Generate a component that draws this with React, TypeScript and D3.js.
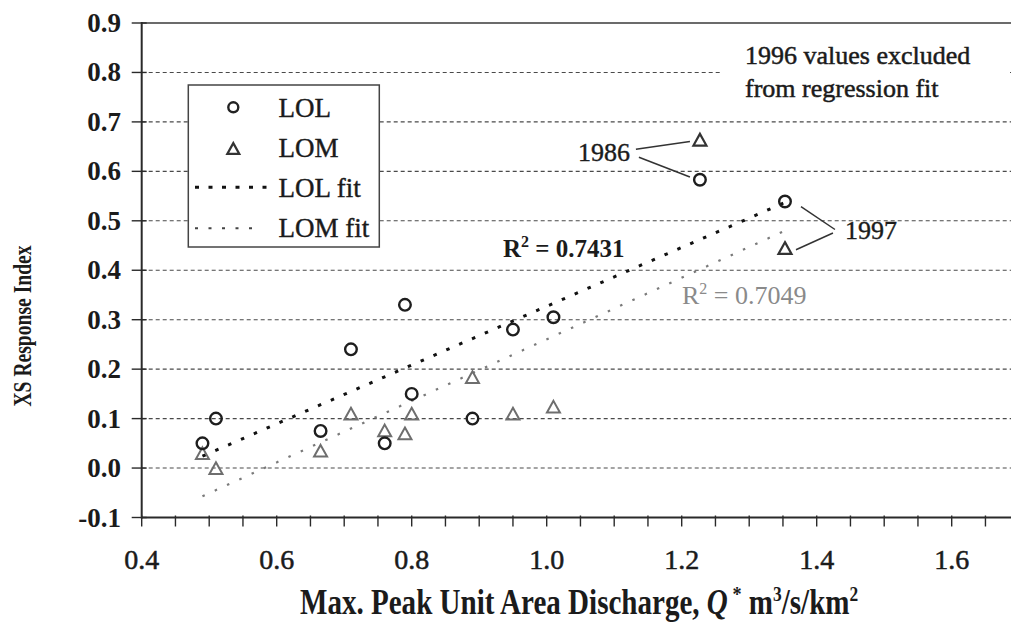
import React from "react";
import * as d3 from "d3";

// ---------- data ----------
const lolX = [0.49, 0.51, 0.665, 0.71, 0.76, 0.79, 0.8, 0.89, 0.95, 1.01];
const lolY = [0.05, 0.1, 0.075, 0.24, 0.05, 0.33, 0.15, 0.1, 0.28, 0.305];
const lomX = [0.49, 0.51, 0.665, 0.71, 0.76, 0.79, 0.8, 0.89, 0.95, 1.01];
const lomY = [0.03, 0.0, 0.035, 0.11, 0.076, 0.07, 0.11, 0.184, 0.11, 0.124];
// labelled years
const yearLabels = ["1986", "1997"];
const yearX = [1.227, 1.353];
const yearLolY = [0.583, 0.539];
const yearLomY = [0.664, 0.445];
// regression fit lines (endpoints)
const fitX = [0.49, 1.353];
const lolFitY = [0.024, 0.537];
const lomFitY = [-0.057, 0.48];
const lolR2 = "0.7431";
const lomR2 = "0.7049";
// axes
const xTicksMajor = [0.4, 0.6, 0.8, 1.0, 1.2, 1.4, 1.6];
const yTicks = [-0.1, 0.0, 0.1, 0.2, 0.3, 0.4, 0.5, 0.6, 0.7, 0.8, 0.9];
const gridValues = [0.0, 0.1, 0.2, 0.3, 0.4, 0.5, 0.6, 0.7, 0.8];
const legendItems = ["LOL", "LOM", "LOL fit", "LOM fit"];

const W = 1011;
const H = 624;
const FONT = "'Liberation Serif','Times New Roman',Times,serif";
const fmt = d3.formatLocale({ decimal: ".", thousands: ",", grouping: [3], currency: ["", ""], minus: "-" }).format(".1f");

const x = d3.scaleLinear().domain([0.4, 1.8]).range([141.7, 141.7 + 1.4 * 675]);
const y = d3.scaleLinear().domain([-0.1, 0.9]).range([517.5, 23]);

function T({ x: tx, y: ty, size, weight = "normal", anchor = "start", fill = "#1b1b1b", sx = 1, rot = 0, style = "normal", heavy = 0, children }: any) {
  return (
    <text
      transform={`translate(${tx},${ty}) rotate(${rot}) scale(${sx},1)`}
      fontFamily={FONT}
      fontSize={size}
      fontWeight={weight}
      fontStyle={style}
      textAnchor={anchor}
      fill={fill}
      stroke={heavy ? fill : "none"}
      strokeWidth={heavy}
    >
      {children}
    </text>
  );
}

const tri = (cx: number, cy: number, s: number) => {
  const h = s * 0.9;
  return `M${cx},${cy - h / 2}L${cx + s / 2},${cy + h / 2}L${cx - s / 2},${cy + h / 2}Z`;
};

export default function App() {
  const x0 = x(0.4);
  const xMinorTicks = d3.range(0.4, 1.8001, 0.05);
  const lineGen = d3.line<[number, number]>().x((d) => x(d[0])).y((d) => y(d[1]));
  const lolFit = lineGen(fitX.map((v, i) => [v, lolFitY[i]] as [number, number]));
  const lomFit = lineGen(fitX.map((v, i) => [v, lomFitY[i]] as [number, number]));

  const p86 = { x: x(yearX[0]), lom: y(yearLomY[0]), lol: y(yearLolY[0]) };
  const p97 = { x: x(yearX[1]), lom: y(yearLomY[1]), lol: y(yearLolY[1]) };

  const lgX = 188.3, lgY = 85, lgW = 191, lgH = 162;

  return (
    <svg width={W} height={H} style={{ position: "absolute", left: 0, top: 0, background: "#fff" }}>
      <rect x={0} y={0} width={W} height={H} fill="#fff" />
      {gridValues.map((v) => (
        <line key={v} x1={x0} x2={W} y1={y(v)} y2={y(v)} stroke="#4a4a4a" strokeWidth={1.1} strokeDasharray="4,3" />
      ))}
      <line x1={x0} x2={W} y1={y(0.9)} y2={y(0.9)} stroke="#3a3a3a" strokeWidth={1.6} />
      <line x1={x0} x2={x0} y1={y(0.9) - 1} y2={y(-0.1) + 1} stroke="#2a2a2a" strokeWidth={2} />
      <line x1={x0} x2={W} y1={y(-0.1)} y2={y(-0.1)} stroke="#2a2a2a" strokeWidth={2} />
      {yTicks.map((v) => (
        <g key={v}>
          <line x1={x0 - 10} x2={x0 + 5} y1={y(v)} y2={y(v)} stroke="#2a2a2a" strokeWidth={1.4} />
          <T x={121} y={y(v) + 9} size={27} weight="bold" anchor="end">{fmt(v)}</T>
        </g>
      ))}
      {xMinorTicks.map((v, i) => (
        <line key={i} x1={x(v)} x2={x(v)} y1={y(-0.1) - 2} y2={y(-0.1) + 9} stroke="#2a2a2a" strokeWidth={1.4} />
      ))}
      {xTicksMajor.map((v) => (
        <T key={v} x={x(v)} y={569} size={28} anchor="middle" heavy={0.5}>{fmt(v)}</T>
      ))}

      <T x={30.5} y={326} size={24.5} weight="bold" anchor="middle" rot={-90} sx={0.8}>XS Response Index</T>
      <T x={300} y={613.5} size={35} weight="bold" sx={0.83}>
        Max. Peak Unit Area Discharge,{" "}
        <tspan fontStyle="italic">Q</tspan>
        <tspan dy={-13} fontSize={22}> *</tspan>
        <tspan dy={13}>{"  "}m</tspan>
        <tspan dy={-13} fontSize={21}>3</tspan>
        <tspan dy={13}>/s/km</tspan>
        <tspan dy={-13} fontSize={21}>2</tspan>
      </T>

      <path d={lomFit || ""} fill="none" stroke="#7a7a7a" strokeWidth={2.2} strokeDasharray="2.5,11" />
      <path d={lolFit || ""} fill="none" stroke="#111" strokeWidth={3} strokeDasharray="3.5,10.5" />

      {lomX.map((v, i) => (
        <path key={i} d={tri(x(v), y(lomY[i]), 13)} fill="none" stroke="#6e6e6e" strokeWidth={2} />
      ))}
      {lolX.map((v, i) => (
        <circle key={i} cx={x(v)} cy={y(lolY[i])} r={5.8} fill="none" stroke="#1e1e1e" strokeWidth={2.4} />
      ))}
      {yearX.map((v, i) => (
        <g key={i}>
          <path d={tri(x(v), y(yearLomY[i]), 13)} fill="none" stroke="#333" strokeWidth={2.2} />
          <circle cx={x(v)} cy={y(yearLolY[i])} r={5.8} fill="none" stroke="#1e1e1e" strokeWidth={2.4} />
        </g>
      ))}

      <T x={p86.x - 122} y={161} size={26} heavy={0.4}>{yearLabels[0]}</T>
      <line x1={p86.x - 64} y1={149.3} x2={p86.x - 10} y2={p86.lom + 1.7} stroke="#333" strokeWidth={1.5} />
      <line x1={p86.x - 61} y1={157.3} x2={p86.x - 10} y2={p86.lol - 2.7} stroke="#333" strokeWidth={1.5} />
      <T x={p97.x + 60} y={239} size={26} heavy={0.4}>{yearLabels[1]}</T>
      <line x1={p97.x + 16} y1={p97.lol + 5} x2={p97.x + 50} y2={229.5} stroke="#333" strokeWidth={1.5} />
      <line x1={p97.x + 11} y1={p97.lom + 1.7} x2={p97.x + 48} y2={233} stroke="#333" strokeWidth={1.5} />

      <rect x={720} y={30} width={290} height={75} fill="#fff" />
      <T x={745} y={64} size={26} heavy={0.5}>1996 values excluded</T>
      <T x={745} y={96.5} size={26} heavy={0.5}>from regression fit</T>

      <T x={503} y={257} size={25} weight="bold">
        R<tspan dy={-10} fontSize={16}>2</tspan>
        <tspan dy={10}> = {lolR2}</tspan>
      </T>
      <T x={682} y={304} size={26} fill="#8a8a8a">
        R<tspan dy={-10} fontSize={16}>2</tspan>
        <tspan dy={10}> = {lomR2}</tspan>
      </T>

      <rect x={lgX} y={lgY} width={lgW} height={lgH} fill="#fff" stroke="#444" strokeWidth={1.5} />
      <circle cx={233.3} cy={107.3} r={5} fill="none" stroke="#222" strokeWidth={2.4} />
      <path d={tri(233.3, 148.5, 12)} fill="none" stroke="#333" strokeWidth={2.2} />
      <line x1={195} x2={275} y1={187.3} y2={187.3} stroke="#111" strokeWidth={3} strokeDasharray="4,9.5" />
      <line x1={195} x2={262} y1={228.3} y2={228.3} stroke="#444" strokeWidth={2} strokeDasharray="3,10.5" />
      {legendItems.map((t, i) => (
        <T key={t} x={278.5} y={116.7 + 40 * i} size={27} heavy={0.4}>{t}</T>
      ))}
    </svg>
  );
}
